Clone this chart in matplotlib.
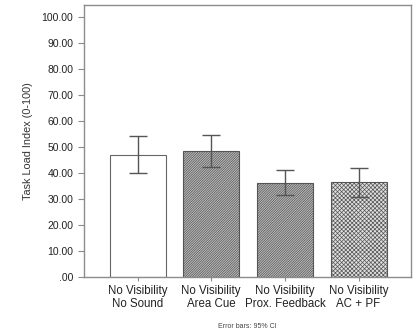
import numpy as np
import matplotlib
matplotlib.use("Agg")
import matplotlib.pyplot as plt
from matplotlib.ticker import FuncFormatter

plt.rcParams["font.family"] = ["Liberation Sans", "DejaVu Sans"]
plt.rcParams["hatch.linewidth"] = 0.5

# ── Data ──────────────────────────────────────────────────────────────────────
conditions = ["No Visibility\nNo Sound", "No Visibility\nArea Cue",
              "No Visibility\nProx. Feedback", "No Visibility\nAC + PF"]
tli_mean = [47.0, 48.6, 36.3, 36.5]
ci_low   = [39.9, 42.4, 31.4, 30.9]
ci_high  = [54.3, 54.7, 41.0, 41.9]

face    = ["white", "#bdbdbd", "#bdbdbd", "#e0e0e0"]
hatches = [None, "/" * 14, "/" * 14, "x" * 8]
GRID    = "#8c8c8c"

fig = plt.figure(figsize=(4.15, 3.35), dpi=100)
ax = fig.add_axes([0.202, 0.173, 0.788, 0.812])

x = np.arange(len(conditions))
bars = ax.bar(x, tli_mean, width=0.76, color=face, edgecolor="#666666",
              linewidth=0.8, zorder=2)
for b, h in zip(bars, hatches):
    if h:
        b.set_hatch(h)
        b.set_edgecolor("#555555")

err = [np.array(tli_mean) - np.array(ci_low), np.array(ci_high) - np.array(tli_mean)]
ax.errorbar(x, tli_mean, yerr=err, fmt="none", ecolor="#555555", elinewidth=1.0,
            capsize=6.5, capthick=1.0, zorder=3)

ax.set_xlim(-0.73, 3.71)
ax.set_ylim(0, 104.6)
ax.set_yticks(np.arange(0, 101, 10))
ax.yaxis.set_major_formatter(FuncFormatter(lambda v, p: ".00" if v == 0 else f"{v:.2f}"))
ax.set_xticks(x)
ax.set_xticklabels(conditions, fontsize=8.3, color="#222222", linespacing=1.1)
ax.tick_params(axis="y", labelsize=7.5, length=4, color=GRID, labelcolor="#222222")
ax.tick_params(axis="x", length=3, color=GRID, pad=3)
for s in ax.spines.values():
    s.set_color(GRID)
    s.set_linewidth(1.0)
ax.set_ylabel("Task Load Index (0-100)", fontsize=7.8, color="#333333", labelpad=6)

fig.text(0.595, 0.022, "Error bars: 95% CI", fontsize=5, color="#444444", ha="center")

plt.savefig("out.png", dpi=100)
